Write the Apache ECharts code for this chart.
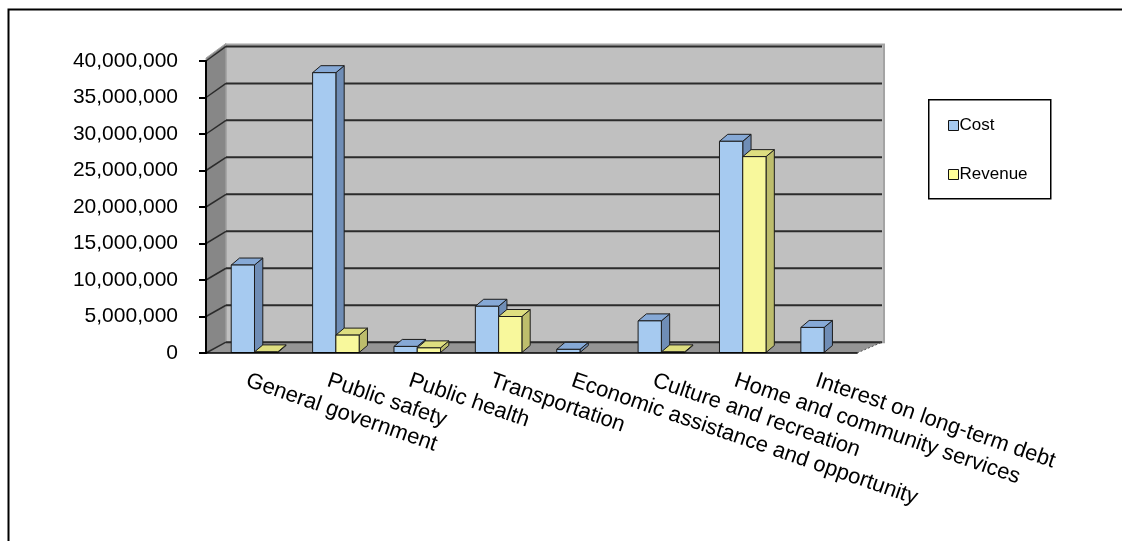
<!DOCTYPE html>
<html><head><meta charset="utf-8">
<script src="https://cdn.jsdelivr.net/npm/echarts@6/dist/echarts.min.js"></script>
<style>html,body{margin:0;padding:0;background:#fff}#c{width:1122px;height:541px}</style>
</head><body><div id="c"></div>
<script>
const categories = ['General government','Public safety','Public health','Transportation','Economic assistance and opportunity','Culture and recreation','Home and community services','Interest on long-term debt'];
const seriesNames = ['Cost','Revenue'];
const costValues = [12050000, 38400000, 900000, 6400000, 500000, 4400000, 29000000, 3500000];
const revenueValues = [150000, 2450000, 700000, 5000000, 0, 150000, 26900000, 0];
const yTicks = [0, 5000000, 10000000, 15000000, 20000000, 25000000, 30000000, 35000000, 40000000];

const FONT = 'Liberation Sans';
const fmt = v => String(v).replace(/\B(?=(\d{3})+(?!\d))/g, ',');

// depth projection (front plane -> back wall)
const DX = 20, DY = -10.8, SX = 1.0077, SY = 1.013;

function boxRender(params, api) {
  const cs = params.coordSys;
  const xl = cs.x, xr = cs.x + cs.width;
  const y0 = api.coord([0, 0])[1];
  const yT = api.coord([0, yTicks[yTicks.length - 1]])[1];
  const bx = x => x + DX + (x - xl) * (SX - 1);
  const by = y => y0 + DY - (y0 - y) * SY;
  const ch = [];
  ch.push({type: 'rect', shape: {x: bx(xl), y: by(yT) - 2, width: bx(xr) - bx(xl) + 2, height: by(y0) - by(yT) + 2},
    style: {fill: '#c0c0c0', stroke: '#a4a4a4', lineWidth: 2}});
  ch.push({type: 'polygon', shape: {points: [[xl, yT - 3], [bx(xl), by(yT) - 3], [bx(xl), by(y0)], [xl, y0]]},
    style: {fill: '#878787', stroke: '#a9a9a9', lineWidth: 1}});
  ch.push({type: 'polygon', shape: {points: [[xl, y0], [xr, y0], [bx(xr), by(y0)], [bx(xl), by(y0)]]},
    style: {fill: '#959595'}});
  yTicks.forEach(v => {
    const y = api.coord([0, v])[1];
    ch.push({type: 'line', shape: {x1: bx(xl), y1: by(y), x2: bx(xr), y2: by(y)}, style: {stroke: '#2b2b2b', lineWidth: 2}});
    ch.push({type: 'line', shape: {x1: xl, y1: y, x2: bx(xl), y2: by(y)}, style: {stroke: '#2b2b2b', lineWidth: 1.5}});
  });
  ch.push({type: 'line', shape: {x1: xr, y1: y0, x2: bx(xr), y2: by(y0)}, style: {stroke: '#555', lineWidth: 1, lineDash: [2, 2]}});
  return {type: 'group', children: ch};
}

function barRender(idx, front, side, top) {
  return function (params, api) {
    const i = api.value(0), v = api.value(1);
    if (!v) return null;
    const cs = params.coordSys;
    const W = cs.width / categories.length;
    const bw = W * 0.286;
    const x0 = cs.x + i * W + W * 0.31 + idx * bw;
    const yb = api.coord([i, 0])[1] - 0.5;
    const yt = api.coord([i, v])[1];
    const dx = 8.3, dy = -7;
    const st = {stroke: '#1c1c1c', lineWidth: 1, lineJoin: 'round'};
    return {type: 'group', children: [
      {type: 'polygon', shape: {points: [[x0 + bw, yb], [x0 + bw + dx, yb + dy], [x0 + bw + dx, yt + dy], [x0 + bw, yt]]}, style: Object.assign({fill: side}, st)},
      {type: 'polygon', shape: {points: [[x0, yt], [x0 + bw, yt], [x0 + bw + dx, yt + dy], [x0 + dx, yt + dy]]}, style: Object.assign({fill: top}, st)},
      {type: 'polygon', shape: {points: [[x0, yb], [x0 + bw, yb], [x0 + bw, yt], [x0, yt]]}, style: Object.assign({fill: front}, st)}
    ]};
  };
}

const chart = echarts.init(document.getElementById('c'), null, {renderer: 'canvas'});
chart.setOption({
  animation: false,
  backgroundColor: '#ffffff',
  textStyle: {fontFamily: FONT, color: '#000'},
  grid: {left: 206, right: 265, top: 61, bottom: 188},
  graphic: [
    {type: 'rect', left: 6, top: 7, shape: {width: 1200, height: 600}, style: {fill: 'none', stroke: '#000', lineWidth: 2}, z: -10},
    {type: 'rect', left: 928, top: 99, shape: {width: 122, height: 99}, style: {fill: '#fff', stroke: '#000', lineWidth: 1.5}, z: 5}
  ],
  legend: {
    data: [
      {name: 'Cost', itemStyle: {color: '#a6caf0', borderColor: '#111', borderWidth: 1}},
      {name: 'Revenue', itemStyle: {color: '#ffff99', borderColor: '#111', borderWidth: 1}}
    ],
    orient: 'vertical', left: 943, top: 112, icon: 'rect', itemWidth: 10, itemHeight: 10, itemGap: 32,
    textStyle: {fontFamily: FONT, fontSize: 17, color: '#000', padding: [0, 0, 0, -4]}, z: 6
  },
  xAxis: {
    type: 'category', data: categories, z: 10,
    axisLine: {lineStyle: {color: '#000', width: 1.5}},
    axisTick: {length: 8, lineStyle: {color: '#000', width: 1.5}},
    axisLabel: {interval: 0, rotate: -19, margin: 27, fontSize: 22, fontFamily: FONT, color: '#000'},
    splitLine: {show: false}
  },
  yAxis: {
    type: 'value', min: 0, max: 40000000, interval: 5000000, z: 10,
    axisLine: {show: true, lineStyle: {color: '#000', width: 2}},
    axisTick: {show: true, length: 7, lineStyle: {color: '#000', width: 2}},
    axisLabel: {fontSize: 21, fontFamily: FONT, color: '#000', margin: 28, formatter: v => fmt(v)},
    splitLine: {show: false}
  },
  series: [
    {type: 'custom', name: 'box', z: 1, silent: true, renderItem: boxRender, data: [[0, 0]], encode: {x: 0, y: 1}},
    {type: 'custom', name: seriesNames[0], z: 2, renderItem: barRender(0, '#a6caf0', '#6f8db6', '#86a9d6'),
      itemStyle: {color: '#a6caf0'}, data: costValues.map((v, i) => [i, v]), encode: {x: 0, y: 1}},
    {type: 'custom', name: seriesNames[1], z: 3, renderItem: barRender(1, '#f8f89c', '#bdbd6c', '#dede80'),
      itemStyle: {color: '#ffff99'}, data: revenueValues.map((v, i) => [i, v]), encode: {x: 0, y: 1}}
  ]
});
</script></body></html>
